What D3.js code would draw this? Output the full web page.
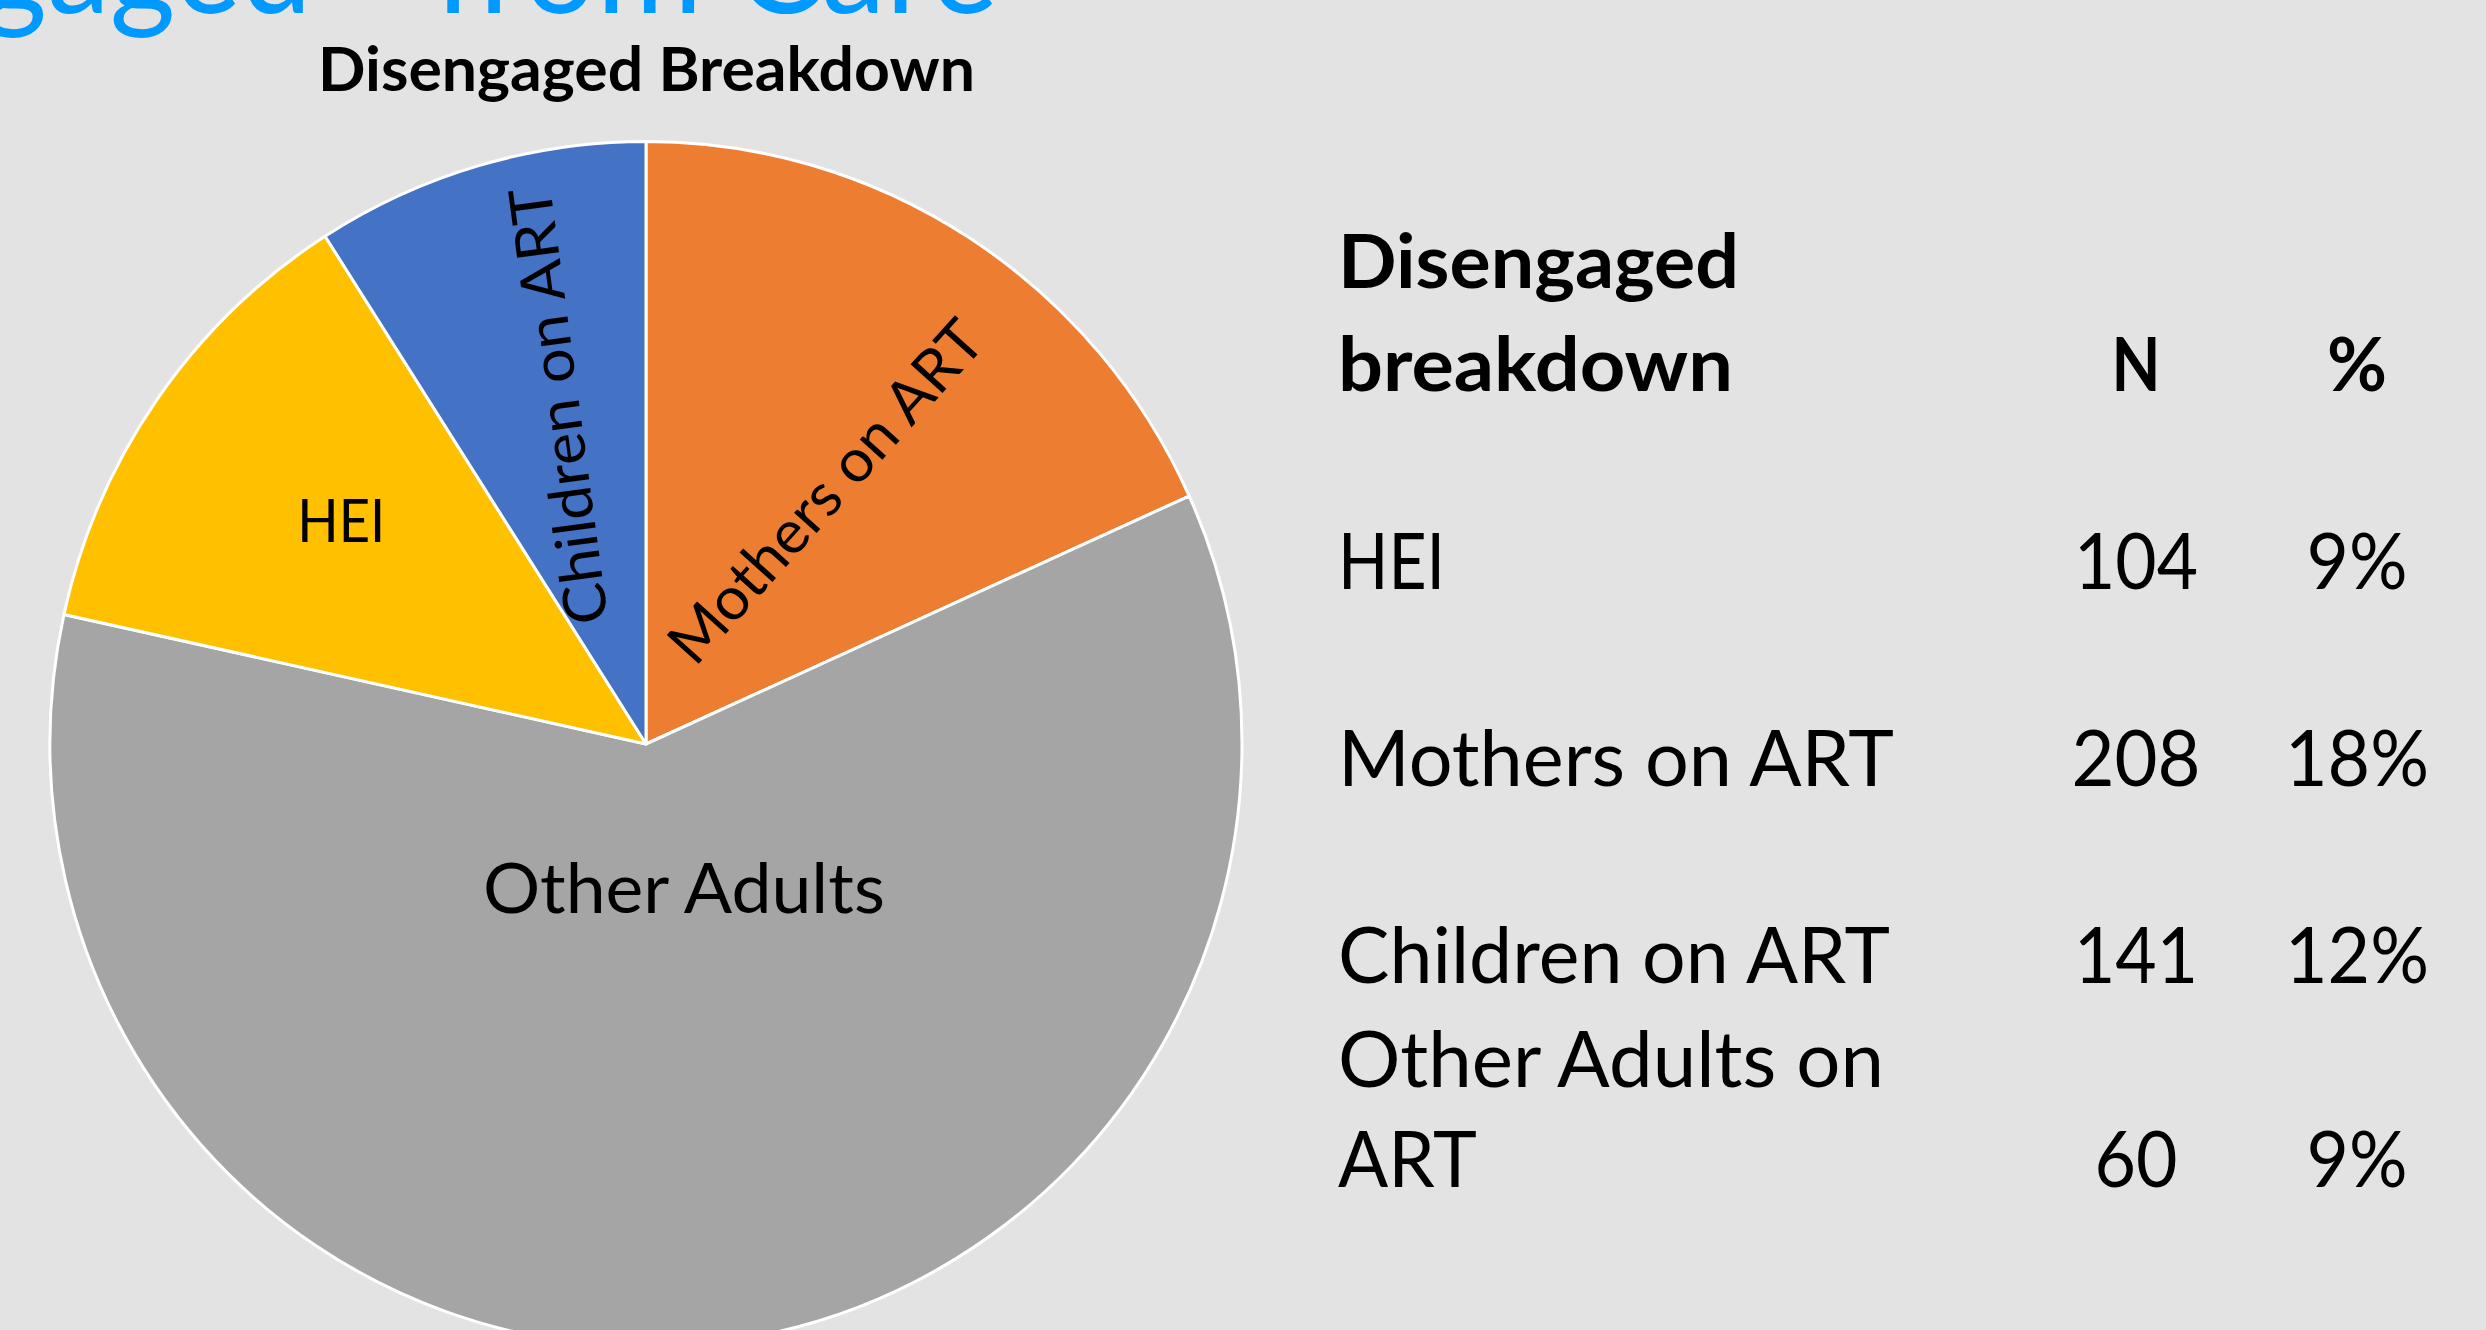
<!DOCTYPE html>
<html><head><meta charset="utf-8">
<script src="https://cdn.jsdelivr.net/npm/d3@7"></script>
<style>
html,body{margin:0;padding:0;background:#E3E3E3;overflow:hidden}
svg{display:block}
text{font-family:Lato,"Open Sans",sans-serif}
</style></head><body>
<svg id="chart" width="2486" height="1330"></svg>
<script>
// ---------- data ----------
const sliceCategories = ["Mothers on ART", "Other Adults", "HEI", "Children on ART"];
const sliceShares = [18.25, 60.2, 12.5, 9.05];   // % of the pie, clockwise from 12 o'clock
const sliceColors = ["#ED7D31", "#A5A5A5", "#FFC000", "#4472C4"];

const chartTitle = "Disengaged Breakdown";
const slideTitleParts = ["\u201CDisengaged\u201D", "from Care"];

const tableHeaderLines = ["Disengaged", "breakdown"];
const columnHeaders = ["N", "%"];
const rowLabels = [["HEI"], ["Mothers on ART"], ["Children on ART"], ["Other Adults on", "ART"]];
const rowN = [104, 208, 141, 60];
const rowPct = ["9%", "18%", "12%", "9%"];

// ---------- layout ----------
const W = 2486, H = 1330;
const svg = d3.select("#chart").attr("width", W).attr("height", H);
svg.append("rect").attr("width", W).attr("height", H).attr("fill", "#E3E3E3");

const pieLayout = {cx: 646, cy: 744, r: 596, yStretch: 1.011};
const labelLayout = {
  "Mothers on ART":  {rf: 0.52,  da: 2.47,  rot: -48,   size: 60, len: 437},
  "Other Adults":    {rf: 0.249, da: -8.85, rot: 0,     size: 70, len: 402},
  "HEI":             {rf: 0.634, da: 1.34,  rot: 0,     size: 60, len: 88},
  "Children on ART": {rf: 0.586, da: 1.7,   rot: -97.6, size: 59, len: 440}
};

// slide title (cut off at the top of the picture)
const st = svg.append("text").attr("y", 13).attr("font-size", 136).attr("fill", "#0099FF");
st.append("tspan").attr("x", 358).attr("text-anchor", "end")
  .attr("textLength", 740).attr("lengthAdjust", "spacingAndGlyphs")
  .text(slideTitleParts[0]);
st.append("tspan").attr("x", 434).attr("text-anchor", "start")
  .attr("textLength", 564).attr("lengthAdjust", "spacingAndGlyphs")
  .text(slideTitleParts[1]);

// chart title
svg.append("text").text(chartTitle)
  .attr("x", 646.5).attr("y", 91).attr("text-anchor", "middle")
  .attr("font-size", 61).attr("font-weight", 700).attr("fill", "#000")
  .attr("textLength", 657).attr("lengthAdjust", "spacingAndGlyphs");

// pie
const pieData = sliceCategories.map((c, i) => ({cat: c, value: sliceShares[i], color: sliceColors[i]}));
const pie = d3.pie().sort(null).value(d => d.value);
const arcs = pie(pieData);
const arc = d3.arc().innerRadius(0).outerRadius(pieLayout.r);
const g = svg.append("g").attr("transform", `translate(${pieLayout.cx},${pieLayout.cy})`);
g.append("g").attr("transform", `scale(1,${pieLayout.yStretch})`)
  .selectAll("path.slice").data(arcs).join("path")
  .attr("class", "slice")
  .attr("d", arc)
  .attr("fill", d => d.data.color)
  .attr("stroke", "#FFFFFF")
  .attr("stroke-width", 3)
  .attr("stroke-linejoin", "round");

g.selectAll("text.slabel").data(arcs).join("text")
  .attr("class", "slabel")
  .attr("transform", d => {
    const L = labelLayout[d.data.cat];
    const a = (d.startAngle + d.endAngle) / 2 + L.da * Math.PI / 180;
    const x = L.rf * pieLayout.r * Math.sin(a);
    const y = -L.rf * pieLayout.r * Math.cos(a);
    return `translate(${x},${y}) rotate(${L.rot})`;
  })
  .attr("text-anchor", "middle")
  .attr("dy", "0.36em")
  .attr("font-size", d => labelLayout[d.data.cat].size)
  .attr("textLength", d => labelLayout[d.data.cat].len)
  .attr("lengthAdjust", "spacingAndGlyphs")
  .attr("fill", "#000")
  .text(d => d.data.cat);

// table
const tableLayout = {
  x: 1338,
  headerBaselines: [288, 391], headerSize: 74, headerLens: [401, 395],
  colX: [2136, 2357], colHeaderLens: [49, 60],
  bodySize: 77, rowBaselines: [589, 785.5, 983, 1187], lineGap: 100,
  labelLens: [[107], [556], [552], [546, 139]],
  nLens: [124, 129, 124, 83], pctLens: [101, 144, 144, 101]
};
const T = tableLayout;
const tbl = svg.append("g");
tbl.selectAll("text.hdr").data(tableHeaderLines).join("text")
  .attr("class", "hdr")
  .attr("x", T.x).attr("y", (d, i) => T.headerBaselines[i])
  .attr("font-size", T.headerSize).attr("font-weight", 700)
  .attr("textLength", (d, i) => T.headerLens[i]).attr("lengthAdjust", "spacingAndGlyphs")
  .text(d => d);
tbl.selectAll("text.colhdr").data(columnHeaders).join("text")
  .attr("class", "colhdr")
  .attr("x", (d, i) => T.colX[i]).attr("y", T.headerBaselines[1])
  .attr("text-anchor", "middle")
  .attr("font-size", T.headerSize).attr("font-weight", 700)
  .attr("textLength", (d, i) => T.colHeaderLens[i]).attr("lengthAdjust", "spacingAndGlyphs")
  .text(d => d);

rowLabels.forEach((lines, r) => {
  const base = T.rowBaselines[r];
  lines.forEach((line, li) => {
    tbl.append("text")
      .attr("x", T.x).attr("y", base - (lines.length - 1 - li) * T.lineGap)
      .attr("font-size", T.bodySize)
      .attr("textLength", T.labelLens[r][li]).attr("lengthAdjust", "spacingAndGlyphs")
      .text(line);
  });
});
tbl.selectAll("text.nval").data(rowN).join("text")
  .attr("class", "nval")
  .attr("x", T.colX[0]).attr("y", (d, i) => T.rowBaselines[i])
  .attr("text-anchor", "middle").attr("font-size", T.bodySize)
  .attr("textLength", (d, i) => T.nLens[i]).attr("lengthAdjust", "spacingAndGlyphs")
  .text(d => d);
tbl.selectAll("text.pval").data(rowPct).join("text")
  .attr("class", "pval")
  .attr("x", T.colX[1]).attr("y", (d, i) => T.rowBaselines[i])
  .attr("text-anchor", "middle").attr("font-size", T.bodySize)
  .attr("textLength", (d, i) => T.pctLens[i]).attr("lengthAdjust", "spacingAndGlyphs")
  .text(d => d);
</script>
</body></html>
